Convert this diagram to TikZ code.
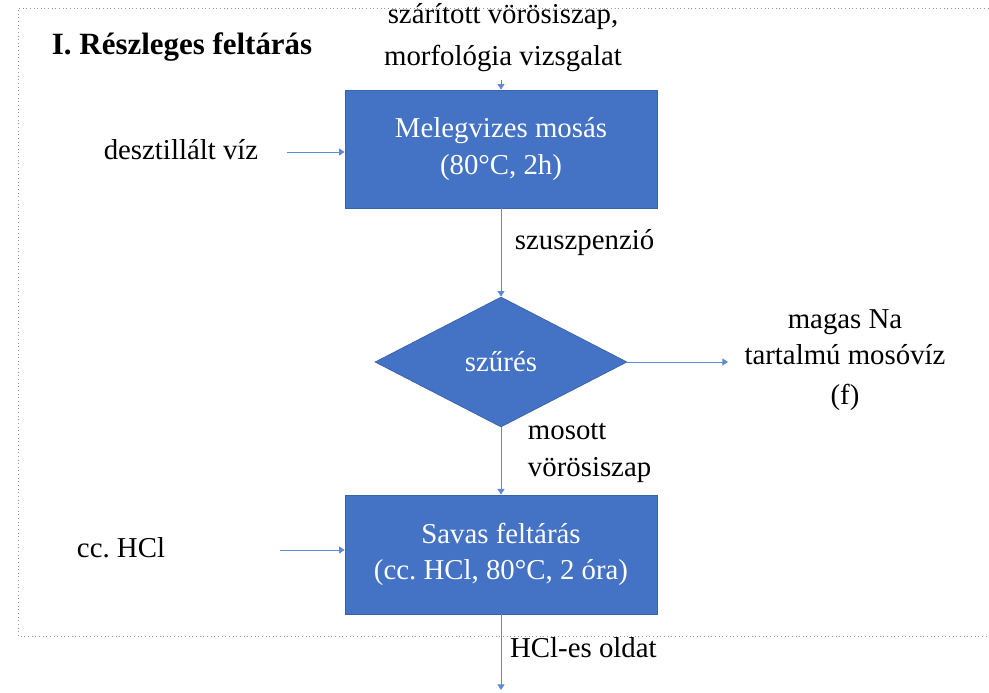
\documentclass[tikz,border=0pt]{standalone}
\usepackage{fontspec}
\setmainfont{Liberation Serif}
\usetikzlibrary{shapes.geometric,arrows.meta}
\definecolor{stepblue}{HTML}{4472C4}
\definecolor{stepedge}{HTML}{3A62AC}
\definecolor{flowline}{HTML}{5B8BD6}
\definecolor{framegray}{HTML}{8A97AE}

\begin{document}
\begin{tikzpicture}[font=\fontsize{20.5}{26}\selectfont\frenchspacing,
  stepbox/.style={draw=stepedge,line width=.5pt,fill=stepblue,text=white,
    minimum width=7.8cm,minimum height=2.95cm,align=center,inner sep=0pt},
  decision/.style={diamond,draw=stepedge,line width=.5pt,fill=stepblue,text=white,
    minimum width=6.3cm,minimum height=3.25cm,aspect=1.94,inner sep=0pt},
  flow/.style={draw=flowline,line width=.6pt,-{Triangle[width=5pt,length=4pt]}},
  label/.style={align=center}]
  \useasboundingbox (0,0) rectangle (24.725,-17.325);

  % Frame of the first stage; its right side lies past the edge.
  \draw[framegray,dotted,line width=.6pt] (24.8,-0.2) -- (0.45,-0.2) -- (0.45,-15.9) -- (24.8,-15.9);
  \node[anchor=west,font=\fontsize{22}{26}\selectfont\bfseries] (title) at (1.175,-1.175) {I. Részleges feltárás};

  % Process steps down the middle.
  \node[stepbox] (wash) at (12.525,-3.725) {Melegvizes mosás\\(80°C, 2h)};
  \node[decision] (filter) at (12.525,-9.05) {szűrés};
  \node[stepbox,minimum height=2.975cm] (acid) at (12.525,-13.86) {Savas feltárás\\(cc. HCl, 80°C, 2 óra)};

  % Inputs and outputs.
  \node[label] (sample) at (12.575,-0.93) {szárított vörösiszap,\\[4pt]morfológia vizsgalat};
  \node[label] (water) at (4.525,-3.75) {desztillált víz};
  \node[label] (hcl) at (3.025,-13.7) {cc. HCl};
  \node[label] (washwater) at (21.125,-9.0) {magas Na\\tartalmú mosóvíz\\[2pt](f)};
  \node[anchor=west] (susp) at (12.75,-6.075) {szuszpenzió};
  \node[anchor=west,align=left] (washed) at (13.075,-11.33) {mosott\\vörösiszap};
  \node[anchor=west] (solution) at (12.63,-16.2) {HCl-es oldat};

  \coordinate (samplein) at (12.525,-2.0);
  \coordinate (waterin) at (7.175,-3.8);
  \coordinate (hclin) at (7.0,-13.75);
  \coordinate (washout) at (18.2,-9.05);
  \coordinate (solout) at (12.525,-17.25);

  \draw[flow] (samplein) -- (wash.north);
  \draw[flow] (waterin) -- (wash.west |- waterin);
  \draw[flow] (wash.south) -- (filter.north);
  \draw[flow] (filter.east) -- (washout);
  \draw[flow] (filter.south) -- (acid.north);
  \draw[flow] (hclin) -- (acid.west |- hclin);
  \draw[flow] (acid.south) -- (solout);
\end{tikzpicture}
\end{document}
